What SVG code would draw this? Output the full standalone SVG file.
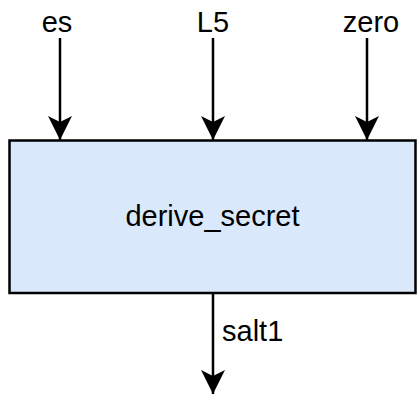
<svg xmlns="http://www.w3.org/2000/svg" width="417" height="395" viewBox="0 0 417 395">
  <style>
    .lbl { font-family: "Liberation Sans", Arial, sans-serif; font-size: 29px; fill: #000; }
    .edge { stroke: #000; stroke-width: 2.5; fill: none; }
    .box { fill: #dae8fc; stroke: #000; stroke-width: 2.5; }
  </style>
  <defs>
    <marker id="arrow" markerUnits="userSpaceOnUse" viewBox="0 0 24 24" refX="24" refY="12" markerWidth="24" markerHeight="24" orient="auto">
      <path d="M0,0 L24,12 L0,24 L6,12 Z" fill="#000"/>
    </marker>
  </defs>

  <g id="connectors">
    <line class="edge" x1="60" y1="38" x2="60" y2="140" marker-end="url(#arrow)"/>
    <line class="edge" x1="213" y1="38" x2="213" y2="140" marker-end="url(#arrow)"/>
    <line class="edge" x1="367" y1="38" x2="367" y2="140" marker-end="url(#arrow)"/>
    <line class="edge" x1="213" y1="293" x2="213" y2="394" marker-end="url(#arrow)"/>
  </g>

  <g id="in-es"><text class="lbl" x="57" y="32" text-anchor="middle">es</text></g>
  <g id="in-L5"><text class="lbl" x="213" y="32" text-anchor="middle">L5</text></g>
  <g id="in-zero"><text class="lbl" x="371" y="32" text-anchor="middle">zero</text></g>

  <g id="derive_secret">
    <rect class="box" x="9.5" y="140.5" width="406" height="152.5"/>
    <text class="lbl" x="212.5" y="226" text-anchor="middle">derive_secret</text>
  </g>

  <g id="out-salt1"><text class="lbl" x="222" y="341">salt1</text></g>
</svg>
